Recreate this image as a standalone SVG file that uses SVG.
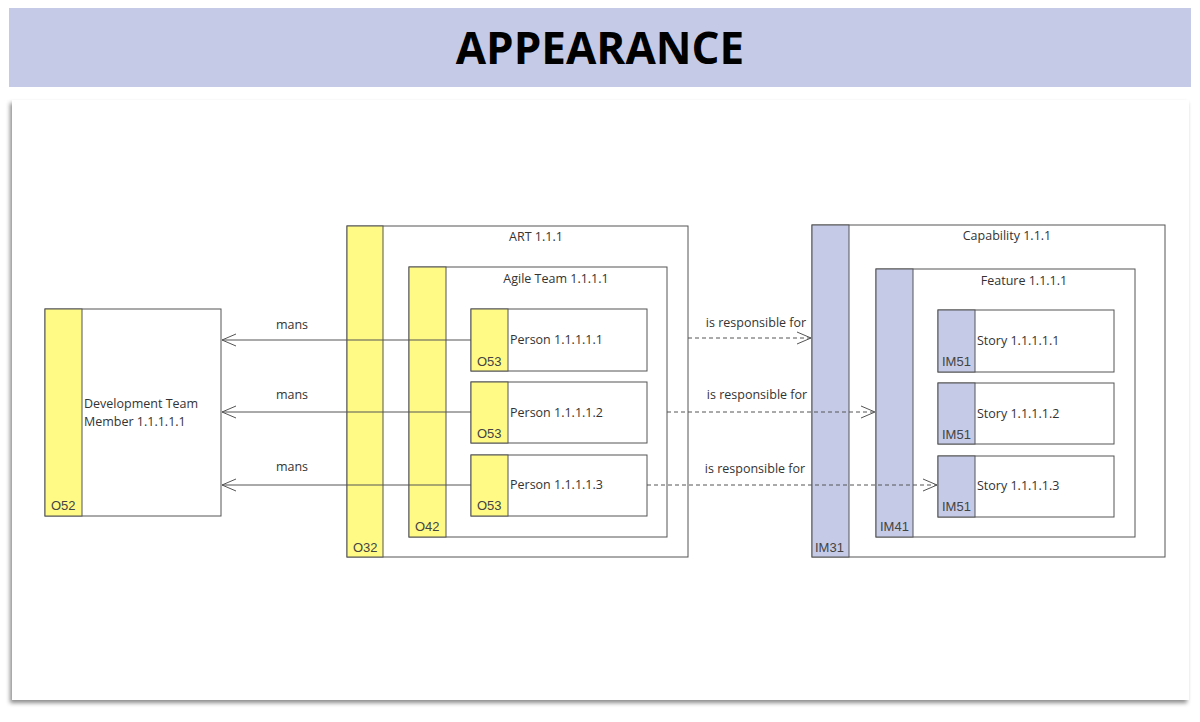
<svg xmlns="http://www.w3.org/2000/svg" width="1200" height="722" viewBox="0 0 1200 722">
<style>
text{font-family:"Open Sans","Liberation Sans",sans-serif;fill:#333;font-size:12.5px}
.box{fill:#fff;stroke:#555;stroke-width:1}
.y{fill:#fffa86;stroke:#555;stroke-width:1}
.b{fill:#c5cbe7;stroke:#555;stroke-width:1}
.tag{font-family:"Liberation Sans",Arial,sans-serif;font-size:13px;fill:#444}
.c{text-anchor:middle}
.ln{stroke:#555;stroke-width:1;fill:none}
.ds{stroke:#555;stroke-width:1;fill:none;stroke-dasharray:4 3}
</style>
<defs>
<marker id="oa" markerWidth="16" markerHeight="14" refX="15" refY="7" orient="auto" markerUnits="userSpaceOnUse"><path d="M1,1 L15,7 L1,13" fill="none" stroke="#555" stroke-width="1"/></marker>
<filter id="sh" x="-5%" y="-5%" width="110%" height="110%"><feDropShadow dx="-2" dy="3" stdDeviation="2" flood-color="#000" flood-opacity="0.45"/></filter>
</defs>
<rect width="1200" height="722" fill="#fff"/>
<rect x="9" y="8" width="1182" height="79" fill="#c5cbe7"/>
<text x="600" y="64" class="c" style="font-family:'Open Sans','Liberation Sans',sans-serif;font-weight:bold;font-size:44px;fill:#000">APPEARANCE</text>
<rect x="12" y="100" width="1177" height="600" fill="#fff" filter="url(#sh)"/>

<g id="dev"><rect class="box" x="45" y="309" width="176" height="207"/><rect class="y" x="45" y="309" width="37" height="207"/>
<text x="84" y="408">Development Team</text><text x="84" y="426">Member 1.1.1.1.1</text><text class="tag" x="51" y="510">O52</text></g>

<g id="art"><rect class="box" x="347" y="226" width="341" height="331"/><rect class="y" x="347" y="226" width="36" height="331"/>
<text class="c" x="536" y="241">ART 1.1.1</text><text class="tag" x="353" y="552">O32</text></g>
<g id="team"><rect class="box" x="409" y="267" width="258" height="270"/><rect class="y" x="409" y="267" width="37" height="270"/>
<text class="c" x="556" y="283">Agile Team 1.1.1.1</text><text class="tag" x="415" y="531">O42</text></g>
<g id="p1"><rect class="box" x="471" y="309" width="176" height="62"/><rect class="y" x="471" y="309" width="37" height="62"/><text x="510" y="344">Person 1.1.1.1.1</text><text class="tag" x="477" y="366">O53</text></g>
<g id="p2"><rect class="box" x="471" y="382" width="176" height="61"/><rect class="y" x="471" y="382" width="37" height="61"/><text x="510" y="417">Person 1.1.1.1.2</text><text class="tag" x="477" y="438">O53</text></g>
<g id="p3"><rect class="box" x="471" y="455" width="176" height="61"/><rect class="y" x="471" y="455" width="37" height="61"/><text x="510" y="489">Person 1.1.1.1.3</text><text class="tag" x="477" y="510">O53</text></g>

<g id="cap"><rect class="box" x="812" y="225" width="353" height="332"/><rect class="b" x="812" y="225" width="37" height="332"/>
<text class="c" x="1007" y="240">Capability 1.1.1</text><text class="tag" x="815" y="552">IM31</text></g>
<g id="feat"><rect class="box" x="876" y="269" width="259" height="268"/><rect class="b" x="876" y="269" width="37" height="268"/>
<text class="c" x="1024" y="285">Feature 1.1.1.1</text><text class="tag" x="880" y="531">IM41</text></g>
<g id="s1"><rect class="box" x="938" y="310" width="176" height="62"/><rect class="b" x="938" y="310" width="37" height="62"/><text x="977" y="345">Story 1.1.1.1.1</text><text class="tag" x="942" y="366">IM51</text></g>
<g id="s2"><rect class="box" x="938" y="383" width="176" height="61"/><rect class="b" x="938" y="383" width="37" height="61"/><text x="977" y="418">Story 1.1.1.1.2</text><text class="tag" x="942" y="439">IM51</text></g>
<g id="s3"><rect class="box" x="938" y="456" width="176" height="61"/><rect class="b" x="938" y="456" width="37" height="61"/><text x="977" y="490">Story 1.1.1.1.3</text><text class="tag" x="942" y="511">IM51</text></g>

<g id="connectors">
<line class="ln" x1="471" y1="340" x2="222" y2="340" marker-end="url(#oa)"/>
<line class="ln" x1="471" y1="412" x2="222" y2="412" marker-end="url(#oa)"/>
<line class="ln" x1="471" y1="485" x2="222" y2="485" marker-end="url(#oa)"/>
<text class="c" x="292" y="329">mans</text><text class="c" x="292" y="399">mans</text><text class="c" x="292" y="471">mans</text>
<line class="ds" x1="688" y1="338" x2="811" y2="338" marker-end="url(#oa)"/>
<line class="ds" x1="667" y1="412" x2="875" y2="412" marker-end="url(#oa)"/>
<line class="ds" x1="647" y1="485" x2="937" y2="485" marker-end="url(#oa)"/>
<text class="c" x="756" y="327">is responsible for</text><text class="c" x="757" y="399">is responsible for</text><text class="c" x="755" y="473">is responsible for</text>
</g>
</svg>
